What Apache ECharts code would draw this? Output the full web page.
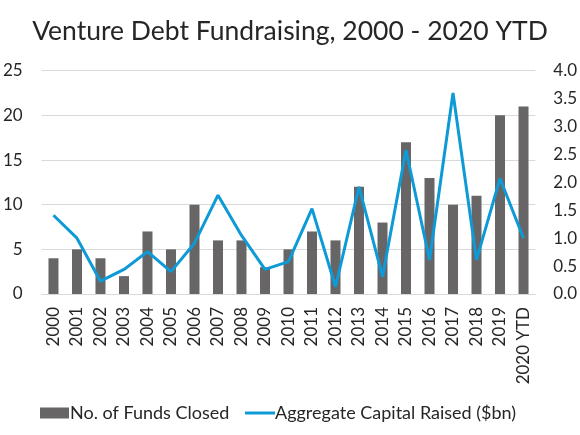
<!DOCTYPE html>
<html>
<head>
<meta charset="utf-8">
<script src="https://cdn.jsdelivr.net/npm/echarts@6/dist/echarts.min.js"></script>
<style>
html,body{margin:0;padding:0;background:#fff;}
#c{width:580px;height:435px;}
</style>
</head>
<body>
<div id="c"></div>
<script>
var categories = ['2000','2001','2002','2003','2004','2005','2006','2007','2008','2009','2010','2011','2012','2013','2014','2015','2016','2017','2018','2019','2020 YTD'];
var fundsClosed = [4,5,4,2,7,5,10,6,6,3,5,7,6,12,8,17,13,10,11,20,21];
var capitalRaised = [1.41,1.0,0.23,0.44,0.76,0.40,0.91,1.77,1.05,0.44,0.58,1.53,0.13,1.92,0.31,2.58,0.61,3.6,0.61,2.07,1.0];
var leftTicks = [0,5,10,15,20,25];
var rightTicks = [0,0.5,1,1.5,2,2.5,3,3.5,4];

var FONT = 'Lato';
var chart = echarts.init(document.getElementById('c'));
chart.setOption({
  animation: false,
  textStyle: {fontFamily: FONT},
  title: {
    text: 'Venture Debt Fundraising, 2000 - 2020 YTD',
    left: 'center', top: 13,
    textStyle: {fontFamily: FONT, fontSize: 26.5, fontWeight: 'normal', color: '#262626'}
  },
  legend: [{
    left: 35, top: 399,
    icon: 'rect', itemWidth: 29, itemHeight: 11, itemGap: 5,
    data: ['No. of Funds Closed'],
    textStyle: {fontFamily: FONT, fontSize: 18, color: '#262626', padding: [0,0,0,-4]}
  }, {
    left: 240, top: 399,
    icon: 'rect', itemWidth: 30, itemHeight: 3,
    data: ['Aggregate Capital Raised ($bn)'],
    textStyle: {fontFamily: FONT, fontSize: 18, color: '#262626', padding: [0,0,0,-5]}
  }],
  grid: {left: 37, right: 42, top: 70.7, bottom: 141, containLabel: false},
  xAxis: {
    type: 'category',
    data: categories,
    axisLine: {show: true, lineStyle: {color: '#d9d9d9', width: 1}},
    axisTick: {show: false},
    axisLabel: {rotate: 90, fontSize: 17, color: '#262626', margin: 13, fontFamily: FONT}
  },
  yAxis: [{
    type: 'value', min: leftTicks[0], max: leftTicks[leftTicks.length-1], interval: 5,
    axisLine: {show: false}, axisTick: {show: false},
    splitLine: {lineStyle: {color: '#d9d9d9', width: 1}},
    axisLabel: {fontSize: 17, color: '#262626', margin: 19, fontFamily: FONT}
  }, {
    type: 'value', min: rightTicks[0], max: rightTicks[rightTicks.length-1], interval: 0.5,
    axisLine: {show: false}, axisTick: {show: false},
    splitLine: {show: false},
    axisLabel: {fontSize: 17, color: '#262626', margin: 18, fontFamily: FONT,
      formatter: function(v){ return v.toFixed(1); }}
  }],
  series: [{
    name: 'No. of Funds Closed',
    type: 'bar',
    data: fundsClosed,
    barWidth: 10,
    itemStyle: {color: '#676565'}
  }, {
    name: 'Aggregate Capital Raised ($bn)',
    type: 'line',
    yAxisIndex: 1,
    data: capitalRaised,
    symbol: 'none',
    lineStyle: {color: '#0d9ad6', width: 3},
    itemStyle: {color: '#0d9ad6'}
  }]
});
</script>
</body>
</html>
